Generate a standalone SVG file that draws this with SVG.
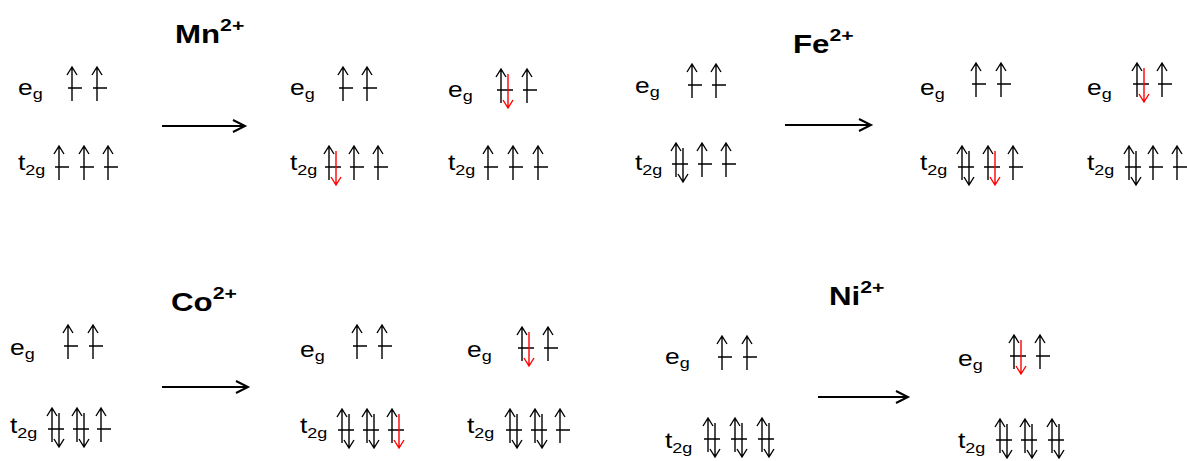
<svg xmlns="http://www.w3.org/2000/svg" width="1187" height="461" viewBox="0 0 1187 461">
<style>
.lbl{font-family:"Liberation Sans",Arial,sans-serif;font-size:22px;fill:#000}
.sub{font-size:15px}
.ion{font-family:"Liberation Sans",Arial,sans-serif;font-size:25px;font-weight:bold;fill:#000}
.sup{font-size:17px}
.k{fill:none;stroke:#000;stroke-width:1.4}
.r{fill:none;stroke:#ff0000;stroke-width:1.4}
.rx{fill:none;stroke:#000;stroke-width:2}
</style>
<defs>
<g id="s"><path class="k" d="M0,0V34M-5,8L0,0L5,8M-4,21H10"/></g>
<g id="p"><path class="k" d="M0,0V34M-5,8L0,0L5,8M-4,21H12M7,5V39M2,31L7,39L12,31"/></g>
<g id="pr"><path class="k" d="M0,0V34M-5,8L0,0L5,8M-4,21H12"/><path class="r" d="M7,5V39M2,31L7,39L12,31"/></g>
</defs>
<rect width="1187" height="461" fill="#fff"/>

<g id="connectors">
<path class="rx" d="M162,126H245M233,120L245,126L233,132"/>
<path class="rx" d="M785,125H871M859,119L871,125L859,131"/>
<path class="rx" d="M162,387H248M236,381L248,387L236,393"/>
<path class="rx" d="M818,397H908M896,391L908,397L896,403"/>
</g>

<g id="ion-labels">
<text class="ion" transform="translate(175,43) scale(1.25,1)">Mn<tspan class="sup" dy="-12">2+</tspan></text>
<text class="ion" transform="translate(793,53) scale(1.25,1)">Fe<tspan class="sup" dy="-12">2+</tspan></text>
<text class="ion" transform="translate(171,311) scale(1.25,1)">Co<tspan class="sup" dy="-12">2+</tspan></text>
<text class="ion" transform="translate(829,305) scale(1.25,1)">Ni<tspan class="sup" dy="-12">2+</tspan></text>
</g>

<g id="mn-initial">
<text class="lbl" transform="translate(18,95) scale(1.2,1)">e<tspan class="sub" dy="4">g</tspan></text>
<use href="#s" x="72" y="67"/><use href="#s" x="97" y="67"/>
<text class="lbl" transform="translate(18,170) scale(1.2,1)">t<tspan class="sub" dy="5">2g</tspan></text>
<use href="#s" x="59" y="146"/><use href="#s" x="84" y="146"/><use href="#s" x="108" y="146"/>
</g>

<g id="mn-t2g-pair">
<text class="lbl" transform="translate(290,95) scale(1.2,1)">e<tspan class="sub" dy="4">g</tspan></text>
<use href="#s" x="343" y="67"/><use href="#s" x="367" y="67"/>
<text class="lbl" transform="translate(290,170) scale(1.2,1)">t<tspan class="sub" dy="5">2g</tspan></text>
<use href="#pr" x="329" y="146"/><use href="#s" x="354" y="146"/><use href="#s" x="378" y="146"/>
</g>

<g id="mn-eg-pair">
<text class="lbl" transform="translate(448,97) scale(1.2,1)">e<tspan class="sub" dy="4">g</tspan></text>
<use href="#pr" x="501" y="69"/><use href="#s" x="527" y="69"/>
<text class="lbl" transform="translate(448,170) scale(1.2,1)">t<tspan class="sub" dy="5">2g</tspan></text>
<use href="#s" x="488" y="146"/><use href="#s" x="513" y="146"/><use href="#s" x="538" y="146"/>
</g>

<g id="fe-initial">
<text class="lbl" transform="translate(635,93) scale(1.2,1)">e<tspan class="sub" dy="4">g</tspan></text>
<use href="#s" x="692" y="64"/><use href="#s" x="716" y="64"/>
<text class="lbl" transform="translate(635,170) scale(1.2,1)">t<tspan class="sub" dy="5">2g</tspan></text>
<use href="#p" x="676" y="143"/><use href="#s" x="702" y="143"/><use href="#s" x="726" y="143"/>
</g>

<g id="fe-t2g-pair">
<text class="lbl" transform="translate(920,95) scale(1.2,1)">e<tspan class="sub" dy="4">g</tspan></text>
<use href="#s" x="976" y="63"/><use href="#s" x="1001" y="63"/>
<text class="lbl" transform="translate(920,170) scale(1.2,1)">t<tspan class="sub" dy="5">2g</tspan></text>
<use href="#p" x="962" y="146"/><use href="#pr" x="988" y="146"/><use href="#s" x="1013" y="146"/>
</g>

<g id="fe-eg-pair">
<text class="lbl" transform="translate(1087,95) scale(1.2,1)">e<tspan class="sub" dy="4">g</tspan></text>
<use href="#pr" x="1137" y="63"/><use href="#s" x="1162" y="63"/>
<text class="lbl" transform="translate(1087,170) scale(1.2,1)">t<tspan class="sub" dy="5">2g</tspan></text>
<use href="#p" x="1129" y="146"/><use href="#s" x="1153" y="146"/><use href="#s" x="1177" y="146"/>
</g>

<g id="co-initial">
<text class="lbl" transform="translate(10,355) scale(1.2,1)">e<tspan class="sub" dy="4">g</tspan></text>
<use href="#s" x="68" y="325"/><use href="#s" x="93" y="325"/>
<text class="lbl" transform="translate(10,433) scale(1.2,1)">t<tspan class="sub" dy="5">2g</tspan></text>
<use href="#p" x="52" y="408"/><use href="#p" x="77" y="408"/><use href="#s" x="101" y="408"/>
</g>

<g id="co-t2g-pair">
<text class="lbl" transform="translate(300,357) scale(1.2,1)">e<tspan class="sub" dy="4">g</tspan></text>
<use href="#s" x="357" y="325"/><use href="#s" x="382" y="325"/>
<text class="lbl" transform="translate(300,433) scale(1.2,1)">t<tspan class="sub" dy="5">2g</tspan></text>
<use href="#p" x="342" y="409"/><use href="#p" x="367" y="409"/><use href="#pr" x="392" y="409"/>
</g>

<g id="co-eg-pair">
<text class="lbl" transform="translate(467,357) scale(1.2,1)">e<tspan class="sub" dy="4">g</tspan></text>
<use href="#pr" x="522" y="327"/><use href="#s" x="548" y="327"/>
<text class="lbl" transform="translate(467,433) scale(1.2,1)">t<tspan class="sub" dy="5">2g</tspan></text>
<use href="#p" x="510" y="409"/><use href="#p" x="535" y="409"/><use href="#s" x="560" y="409"/>
</g>

<g id="ni-initial">
<text class="lbl" transform="translate(665,364) scale(1.2,1)">e<tspan class="sub" dy="4">g</tspan></text>
<use href="#s" x="722" y="336"/><use href="#s" x="747" y="336"/>
<text class="lbl" transform="translate(665,448) scale(1.2,1)">t<tspan class="sub" dy="5">2g</tspan></text>
<use href="#p" x="708" y="418"/><use href="#p" x="735" y="418"/><use href="#p" x="762" y="418"/>
</g>

<g id="ni-final">
<text class="lbl" transform="translate(958,366) scale(1.2,1)">e<tspan class="sub" dy="4">g</tspan></text>
<use href="#pr" x="1014" y="335"/><use href="#s" x="1040" y="335"/>
<text class="lbl" transform="translate(958,448) scale(1.2,1)">t<tspan class="sub" dy="5">2g</tspan></text>
<use href="#p" x="1000" y="419"/><use href="#p" x="1025" y="419"/><use href="#p" x="1052" y="419"/>
</g>
</svg>
